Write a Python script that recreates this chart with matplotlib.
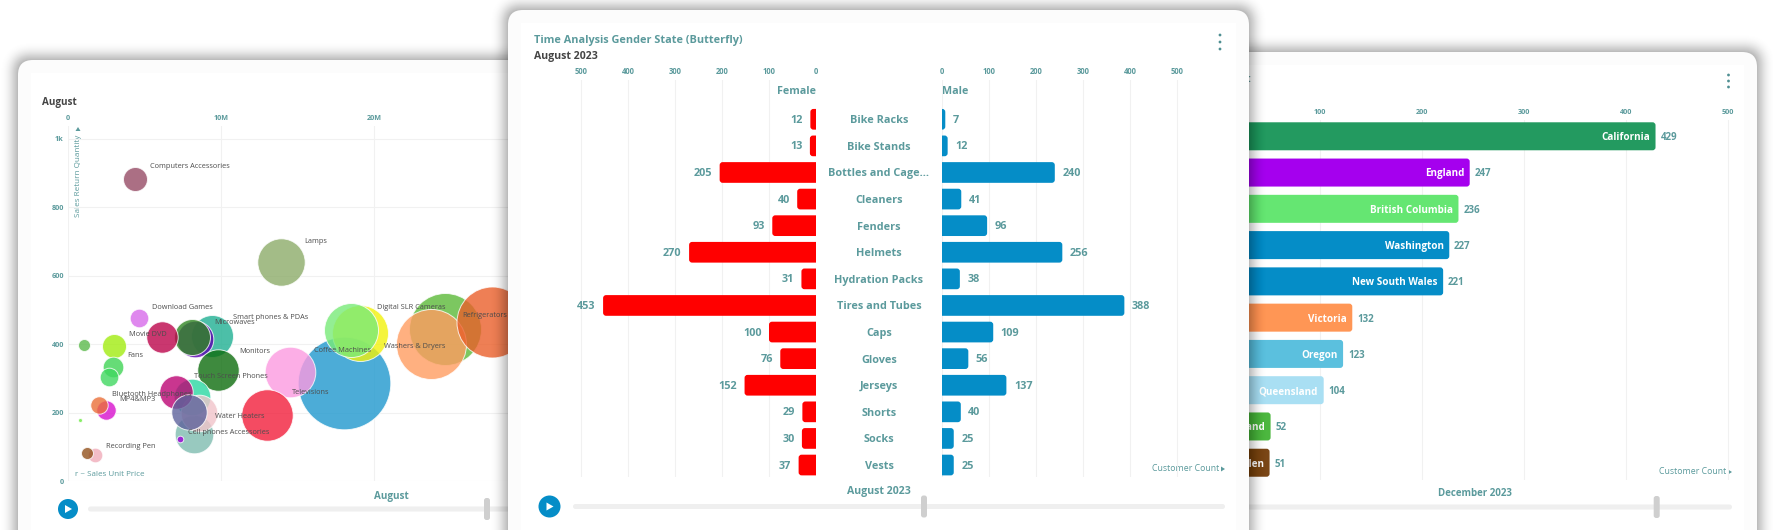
import matplotlib
matplotlib.use('Agg')
import matplotlib.pyplot as plt
from matplotlib.patches import FancyBboxPatch, Circle, Rectangle, Polygon

plt.rcParams['font.family'] = ['Open Sans', 'DejaVu Sans']

W, H = 1773, 530
TEAL = '#5b9a9c'
DARK = '#444444'
BLUE = '#058dc7'
GRID = '#f1f1f1'

# bubble chart, listed in drawing order
bubble_names = ['Washers & Dryers', '', 'Coffee Machines', 'Computers Accessories', 'Lamps',
                'Download Games', 'Smart phones & PDAs', 'Microwaves', '', '',
                '', 'Movie DVD', 'Fans', '', 'Monitors',
                'Televisions', '', 'Digital SLR Cameras', 'Refrigerators', '',
                'Water Heaters', '', '', 'Touch Screen Phones', '', 'Cell phones Accessories',
                'MP4&MP3', 'Bluetooth Headphones', '', 'Recording Pen', '']
sales_amount = [18.06, 19.06, 14.49, 4.40, 13.94,
                4.64, 9.41, 8.28, 8.10, 6.14,
                1.02, 3.03, 2.96, 2.68, 9.80,
                13.03, 24.64, 18.50, 23.70, 27.71,
                8.26, 8.10, 8.56, 7.06, 7.89, 7.30,
                2.51, 2.05, 0.81, 1.74, 1.22]
return_qty = [287, 432, 319, 884, 640,
              476, 424, 416, 420, 422,
              398, 394, 334, 304, 325,
              194, 444, 441, 400, 466,
              138, 247, 198, 259, 203, 123,
              207, 223, 179, 75, 83]
unit_price = [46.3, 28, 25.3, 12, 23.7,
              9.3, 21, 18.3, 18, 15.7,
              6, 12, 10.3, 9.3, 20.7,
              25.7, 36, 27, 35, 35.5,
              19.3, 18.3, 18.3, 16.7, 17.7, 3.3,
              9.7, 8.7, 2, 7.3, 6]
bubble_colors = ['#1f98ce', '#f2f20b', '#fc9ae0', '#964b65', '#8cac69',
                 '#d86bea', '#1fb092', '#5900b0', '#318623', '#bc054b',
                 '#5bba4b', '#a2ec10', '#40d455', '#40d860', '#0e6d0e',
                 '#f21e3b', '#5bba38', '#78ea78', '#ff9c60', '#ea5f2a',
                 '#7fbcb0', '#2ad8a2', '#f0c4ca', '#bc0373', '#5e639c', '#9c00d8',
                 '#d810ce', '#ea6f38', '#6aea40', '#f0abba', '#92511d']

# butterfly chart
categories = ['Bike Racks', 'Bike Stands', 'Bottles and Cage...', 'Cleaners', 'Fenders', 'Helmets',
              'Hydration Packs', 'Tires and Tubes', 'Caps', 'Gloves', 'Jerseys', 'Shorts', 'Socks', 'Vests']
female = [12, 13, 205, 40, 93, 270, 31, 453, 100, 76, 152, 29, 30, 37]
male = [7, 12, 240, 41, 96, 256, 38, 388, 109, 56, 137, 40, 25, 25]
butterfly_ticks = [0, 100, 200, 300, 400, 500]

# state bars
states = ['California', 'England', 'British Columbia', 'Washington', 'New South Wales',
          'Victoria', 'Oregon', 'Queensland', 'Saarland', 'Nordrhein-Westfalen']
state_counts = [429, 247, 236, 227, 221, 132, 123, 104, 52, 51]
state_colors = ['#239a60', '#a500ee', '#65e672', '#058dc7', '#058dc7',
                '#ff9655', '#5bc0de', '#a9dff3', '#4cb73f', '#7a4616']
state_ticks = [100, 200, 300, 400, 500]


fig = plt.figure(figsize=(W / 100, H / 100), dpi=100, facecolor='white')


def px_axes(x0, y0, x1, y1, z):
    ax = fig.add_axes([x0 / W, 1 - y1 / H, (x1 - x0) / W, (y1 - y0) / H], zorder=z)
    ax.patch.set_alpha(0)
    return ax


def layer(z):
    ax = px_axes(0, 0, W, H, z)
    ax.set_xlim(0, W)
    ax.set_ylim(H, 0)
    ax.axis('off')
    return ax


def card(ax, x0, y0, x1, y1):
    # shadow gets darker towards the card edge
    for i in range(17, 0, -1):
        ax.add_patch(FancyBboxPatch((x0 - i, y0 - i), x1 - x0 + 2 * i, y1 - y0 + 2 * i,
                                    boxstyle='round,pad=0,rounding_size=%d' % (14 + i),
                                    fc='black', ec='none', alpha=0.002 + (17 - i) * 0.0018))
    ax.add_patch(FancyBboxPatch((x0, y0), x1 - x0, y1 - y0, boxstyle='round,pad=0,rounding_size=15',
                                fc='#fcfcfc', ec='none'))
    ax.add_patch(Rectangle((x0 + 13, y0 + 13), x1 - x0 - 26, y1 - y0, fc='white', ec='none'))


def slider(ax, play_x, y, x0, x1, thumb, r=11):
    ax.add_patch(FancyBboxPatch((x0, y - 2.5), x1 - x0, 5, boxstyle='round,pad=0,rounding_size=2.5',
                                fc='#efefef', ec='none'))
    ax.add_patch(FancyBboxPatch((thumb - 3, y - 11), 6, 22, boxstyle='round,pad=0,rounding_size=2.5',
                                fc='#cfcfcf', ec='none'))
    if play_x is not None:
        ax.add_patch(Circle((play_x, y), r, fc=BLUE, ec='none'))
        ax.add_patch(Polygon([(play_x - 3, y - 4), (play_x - 3, y + 4), (play_x + 4, y)], fc='white', ec='none'))


def dots(ax, x, y0, y1):
    for y in (y0, (y0 + y1) / 2, y1):
        ax.add_patch(Circle((x, y), 1.4, fc='#4f8f92', ec='none'))


def customer_count(ax, x, y):
    ax.text(x - 6, y, 'Customer Count', color=TEAL, fontsize=6.3, ha='right', va='center')
    ax.add_patch(Polygon([(x - 4, y - 2), (x - 4, y + 3), (x, y + 0.5)], fc=TEAL, ec='none'))


def style(ax):
    for s in ax.spines.values():
        s.set_visible(False)
    ax.tick_params(length=0)
    ax.set_axisbelow(True)


def rounded_barh(ax, start, end, y, h, color, sx, sy, r=3):
    # sx, sy: data units per pixel, so the corners stay round
    ax.add_patch(FancyBboxPatch((start, y - h / 2), end - start, h,
                                boxstyle='round,pad=0,rounding_size=%f' % (r * sx),
                                mutation_aspect=sy / sx, fc=color, ec='none'))


# ---- left card
back = layer(0)
card(back, 18, 60, 560, 600)
back.text(42, 102, 'August', color=DARK, fontsize=7.1, fontweight='bold', va='center')
back.text(75, 474, 'r ~ Sales Unit Price', color=TEAL, fontsize=5.8, va='center')
back.text(78, 176, 'Sales Return Quantity', color=TEAL, fontsize=5.9, rotation=90, ha='center', va='center')
back.add_patch(Polygon([(75.5, 131), (80.5, 131), (78, 127)], fc=TEAL, ec='none'))
back.text(391.5, 496, 'August', color=TEAL, fontsize=7.1, fontweight='bold', ha='center', va='center')
slider(back, 68, 509, 88, 560, 487, r=10)

ax1 = px_axes(68, 126, 520, 481, 1)
ax1.set_xlim(0, 29.54)
ax1.set_ylim(0, 1038)
style(ax1)
ax1.xaxis.tick_top()
ax1.set_xticks([0, 10, 20])
ax1.set_xticklabels(['0', '10M', '20M'], color=TEAL, fontsize=5.2, fontweight='bold')
ax1.set_yticks([0, 200, 400, 600, 800, 1000])
ax1.set_yticklabels(['0', '200', '400', '600', '800', '1k'], color=TEAL, fontsize=5.2, fontweight='bold')
ax1.tick_params(axis='x', pad=2.8)
ax1.tick_params(axis='y', pad=3)
ax1.grid(True, color=GRID, lw=0.8)

for i in range(len(sales_amount)):
    # radius is in pixels, scatter wants points squared
    s = (2 * unit_price[i] * 0.72) ** 2
    ax1.scatter(sales_amount[i], return_qty[i], s=s, c=bubble_colors[i], alpha=0.8,
                edgecolors='white', linewidths=0.7, clip_on=False, zorder=3 + i * 0.01)
for i, name in enumerate(bubble_names):
    if name:
        dx = (0.72 * unit_price[i] + 6.3) * 0.72
        dy = (0.71 * unit_price[i] + 3.7) * 0.72
        ax1.annotate(name, (sales_amount[i], return_qty[i]), xytext=(dx, dy), textcoords='offset points',
                     color='#4d4d4d', fontsize=5.35, va='center', zorder=6, annotation_clip=False)

# ---- right card
back2 = layer(2)
card(back2, 1100, 52, 1757, 600)
back2.text(1475, 494, 'December 2023', color=TEAL, fontsize=7.05, fontweight='bold', ha='center', va='center')
customer_count(back2, 1732, 471.5)
slider(back2, None, 507, 1100, 1732, 1656.7)
dots(back2, 1728.5, 75, 87)
back2.text(1250.5, 79, ':', color=TEAL, fontsize=7.6, fontweight='bold', ha='right', va='center')

ax3 = px_axes(1217.5, 120, 1732, 480, 3)
ax3.set_xlim(0, 503.9)
ax3.set_ylim(9.476, -0.449)
style(ax3)
ax3.xaxis.tick_top()
ax3.set_xticks(state_ticks)
ax3.set_xticklabels(state_ticks, color=TEAL, fontsize=5.2, fontweight='bold')
ax3.tick_params(axis='x', pad=3.2)
ax3.set_yticks([])
ax3.grid(True, axis='x', color=GRID, lw=0.8)
for i, (name, v, c) in enumerate(zip(states, state_counts, state_colors)):
    rounded_barh(ax3, -300, v, i, 28 / 36.27, c, 100 / 102.1, 1 / 36.27)
    ax3.annotate(name, (v, i), xytext=(-4, -1), textcoords='offset points', color='white', fontsize=7.1,
                 fontweight='bold', ha='right', va='center', annotation_clip=False)
    ax3.annotate(str(v), (v, i), xytext=(3.5, -1), textcoords='offset points', color=TEAL, fontsize=7.0,
                 fontweight='bold', ha='left', va='center', annotation_clip=False)

# ---- middle card, sits on top of the others
back3 = layer(4)
card(back3, 508, 10, 1249, 600)
back3.text(534.5, 40.5, 'Time Analysis Gender State (Butterfly)', color=TEAL, fontsize=7.8, fontweight='bold', va='center')
back3.text(534.5, 56.5, 'August 2023', color=DARK, fontsize=7.6, fontweight='bold', va='center')
back3.text(879, 491.5, 'August 2023', color=TEAL, fontsize=7.6, fontweight='bold', ha='center', va='center')
customer_count(back3, 1225, 468.5)
slider(back3, 549.5, 506.5, 573, 1225, 924)
dots(back3, 1220, 35, 49)

ylim_mid = (13.45, -1.477)
axl = px_axes(576.3, 80, 816, 477, 5)
axl.set_xlim(510, 0)
axr = px_axes(942, 80, 1181.7, 477, 5)
axr.set_xlim(0, 510)
for ax, vals, col in ((axl, female, '#ff0000'), (axr, male, BLUE)):
    ax.set_ylim(*ylim_mid)
    style(ax)
    ax.xaxis.tick_top()
    ax.set_xticks(butterfly_ticks)
    ax.set_xticklabels(butterfly_ticks, color=TEAL, fontsize=5.5, fontweight='bold')
    ax.tick_params(axis='x', pad=3.2)
    ax.grid(True, axis='x', color=GRID, lw=0.8)
    for i, v in enumerate(vals):
        rounded_barh(ax, -30, v, i, 20.7 / 26.6, col, 100 / 47, 1 / 26.6)
axl.set_yticks([])
axr.yaxis.tick_left()
axr.set_yticks(range(len(categories)))
axr.set_yticklabels(categories, color=TEAL, fontsize=7.8, fontweight='bold', ha='center')
axr.tick_params(axis='y', pad=45.4)
for i, v in enumerate(female):
    axl.annotate(str(v), (v, i), xytext=(-5.4, -0.8), textcoords='offset points', color=TEAL, fontsize=7.8,
                 fontweight='bold', ha='right', va='center', annotation_clip=False)
for i, v in enumerate(male):
    axr.annotate(str(v), (v, i), xytext=(5.4, -0.8), textcoords='offset points', color=TEAL, fontsize=7.8,
                 fontweight='bold', ha='left', va='center', annotation_clip=False)
axl.text(0, -1.06, 'Female', color=TEAL, fontsize=7.7, fontweight='bold', ha='right', va='center')
axr.text(0, -1.06, 'Male', color=TEAL, fontsize=7.7, fontweight='bold', ha='left', va='center')

fig.savefig('out.png', dpi=100)
